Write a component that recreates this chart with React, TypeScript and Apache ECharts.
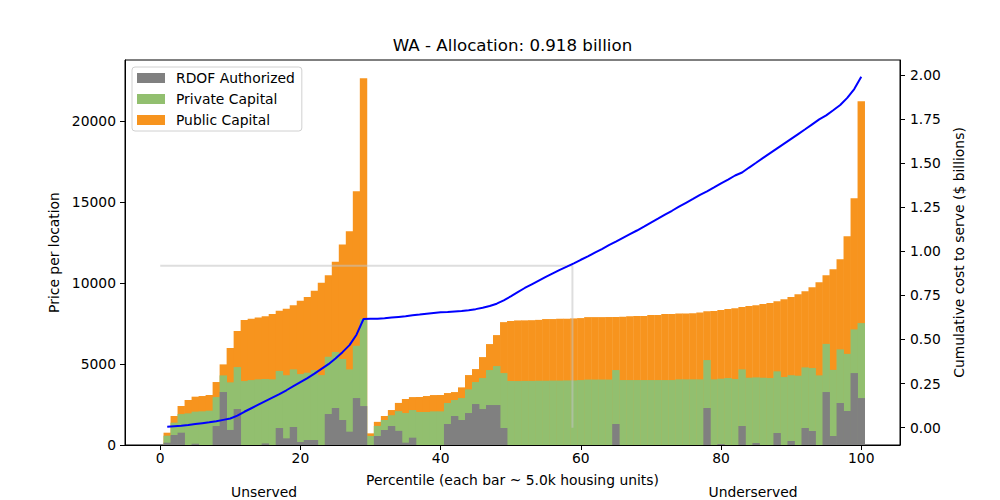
import React, { useEffect, useRef } from "react";
import * as echarts from "echarts";

// ---------- data ----------
const percentiles = [
  1, 2, 3, 4, 5, 6, 7, 8, 9, 10, 11, 12, 13, 14, 15, 16, 17, 18, 19, 20,
  21, 22, 23, 24, 25, 26, 27, 28, 29, 30, 31, 32, 33, 34, 35, 36, 37, 38, 39, 40,
  41, 42, 43, 44, 45, 46, 47, 48, 49, 50, 51, 52, 53, 54, 55, 56, 57, 58, 59, 60,
  61, 62, 63, 64, 65, 66, 67, 68, 69, 70, 71, 72, 73, 74, 75, 76, 77, 78, 79, 80,
  81, 82, 83, 84, 85, 86, 87, 88, 89, 90, 91, 92, 93, 94, 95, 96, 97, 98, 99, 100,
];

// top of the orange bar (public capital, drawn from 0)
const publicCapital = [
  760, 1790, 2410, 2780, 2985, 3025, 3090, 3890, 4980, 5990,
  7040, 7720, 7800, 7880, 7960, 8090, 8290, 8420, 8640, 8910,
  9140, 9530, 10020, 10490, 11320, 12390, 13210, 15680, 22650, 720,
  1430, 1790, 2160, 2600, 2840, 2960, 2965, 3025, 3085, 3090,
  3210, 3270, 3560, 4320, 4690, 5430, 6235, 6790, 7590, 7655,
  7695, 7700, 7710, 7730, 7780, 7780, 7800, 7800, 7820, 7840,
  7900, 7900, 7900, 7905, 7910, 7920, 7960, 7965, 7970, 8025,
  8030, 8085, 8090, 8128, 8130, 8135, 8190, 8270, 8275, 8335,
  8395, 8455, 8520, 8580, 8640, 8705, 8765, 8880, 9010, 9135,
  9320, 9505, 9750, 10060, 10490, 10860, 11480, 12900, 15250, 21240,
];

// top of the green bar (private capital, drawn from 0)
const privateCapital = [
  576, 1380, 1910, 1955, 2060, 2080, 2120, 2960, 4300, 3870,
  4815, 3950, 4010, 4055, 4075, 4055, 4570, 4310, 4670, 4380,
  4465, 4630, 4320, 5450, 5740, 5310, 4670, 6130, 7780, 560,
  1180, 1545, 1840, 2090, 1975, 2160, 2040, 2040, 2078, 2078,
  2593, 2778, 2900, 3436, 3889, 4136, 4630, 4877, 4444, 3951,
  3951, 3960, 3960, 3970, 3970, 3980, 3980, 3990, 3990, 4010,
  4040, 4040, 4040, 4040, 4630, 4012, 4012, 4012, 4012, 4012,
  4012, 4012, 4012, 4053, 4053, 4053, 4053, 5247, 4053, 4095,
  4136, 4074, 4671, 4156, 4177, 4156, 4136, 4550, 4198, 4310,
  4280, 4794, 4753, 4300, 6245, 4640, 5905, 5630, 7140, 7531,
];

// gray bar (RDOF authorized, drawn from 0)
const rdofAuthorized = [
  144, 617, 761, 0, 80, 0, 0, 1173, 3272, 930,
  2222, 0, 0, 0, 100, 0, 1050, 412, 1111, 185,
  309, 309, 0, 1914, 2284, 1543, 823, 2901, 2407, 0,
  556, 926, 1173, 875, 144, 453, 0, 0, 0, 0,
  1296, 1790, 1543, 1975, 2531, 2222, 2469, 2469, 1049, 0,
  0, 0, 0, 0, 0, 0, 0, 0, 0, 0,
  0, 0, 0, 0, 1296, 0, 0, 0, 0, 0,
  0, 0, 0, 0, 0, 0, 0, 2284, 0, 62,
  0, 0, 1173, 0, 123, 0, 0, 741, 0, 247,
  0, 1049, 864, 0, 3272, 556, 2593, 2099, 4444, 2901,
];

// cumulative cost to serve ($ billions), right axis
const cumulativeCost = [
  0.005, 0.008, 0.011, 0.015, 0.02, 0.025, 0.03, 0.036, 0.044, 0.052,
  0.068, 0.09, 0.11, 0.13, 0.15, 0.17, 0.19, 0.212, 0.235, 0.258,
  0.281, 0.306, 0.333, 0.36, 0.392, 0.428, 0.468, 0.527, 0.616, 0.617,
  0.618, 0.62, 0.624, 0.628, 0.632, 0.637, 0.641, 0.646, 0.65, 0.654,
  0.656, 0.659, 0.662, 0.666, 0.672, 0.68, 0.69, 0.703, 0.722, 0.744,
  0.768, 0.792, 0.813, 0.834, 0.855, 0.875, 0.895, 0.913, 0.932, 0.952,
  0.971, 0.992, 1.013, 1.035, 1.055, 1.076, 1.097, 1.118, 1.14, 1.163,
  1.185, 1.208, 1.23, 1.253, 1.275, 1.297, 1.32, 1.34, 1.362, 1.385,
  1.407, 1.43, 1.447, 1.475, 1.502, 1.53, 1.557, 1.584, 1.611, 1.638,
  1.665, 1.692, 1.72, 1.748, 1.771, 1.8, 1.83, 1.87, 1.92, 1.99,
];

const allocation = 0.918; // billions
const allocationPercentile = 58.8;

const xTicks = [0, 20, 40, 60, 80, 100];
const leftTicks = [0, 5000, 10000, 15000, 20000];
const rightTicks = [0, 0.25, 0.5, 0.75, 1.0, 1.25, 1.5, 1.75, 2.0];

const titleText = "WA - Allocation: 0.918 billion";
const xLabel = "Percentile (each bar ~ 5.0k housing units)";
const leftLabel = "Price per location";
const rightLabel = "Cumulative cost to serve ($ billions)";
const groupLabels = ["Unserved", "Underserved"];

// ---------- layout ----------
const W = 1000;
const H = 500;
const GRID = { left: 125, right: 100, top: 60, bottom: 55 };
const X_MIN = -5.025;
const X_MAX = 105.525;
const FONT = "DejaVu Sans";
const FS = 13.89;

const COLORS = {
  rdof: "#808080",
  priv: "#92bf6f",
  pub: "#f7941e",
  line: "#0000ff",
};

export default function App() {
  const ref = useRef<HTMLDivElement>(null);

  useEffect(() => {
    if (!ref.current) return;
    const chart = echarts.init(ref.current, undefined, { renderer: "svg" });
    const plotW = W - GRID.left - GRID.right;
    const barW = plotW / (X_MAX - X_MIN) + 0.4;

    const pair = (arr: number[]) => arr.map((v, i) => [percentiles[i], v]);

    const tickLabelStyle = {
      color: "#000",
      fontFamily: FONT,
      fontSize: FS,
    };

    const textEl = (x: number, y: number, text: string, size: number) => ({
      type: "text",
      x,
      y,
      z: 100,
      style: {
        text,
        font: `${size}px "${FONT}"`,
        fill: "#000",
        align: "center",
        textAlign: "center",
        verticalAlign: "middle",
        textVerticalAlign: "middle",
      },
    });

    const option: any = {
      animation: false,
      backgroundColor: "#fff",
      grid: {
        ...GRID,
        show: true,
        borderColor: "#000",
        borderWidth: 1,
        backgroundColor: "transparent",
        containLabel: false,
      },
      legend: {
        data: ["RDOF Authorized", "Private Capital", "Public Capital"],
        orient: "vertical",
        left: 132,
        top: 67,
        itemWidth: 28,
        itemHeight: 10,
        itemGap: 7,
        padding: [4, 7, 4, 5],
        icon: "rect",
        borderColor: "#d0d0d0",
        borderWidth: 1,
        borderRadius: 3,
        backgroundColor: "rgba(255,255,255,0.8)",
        textStyle: { ...tickLabelStyle, padding: [0, 0, 0, 6] },
        selectedMode: false,
      },
      xAxis: {
        type: "value",
        min: X_MIN,
        max: X_MAX,
        splitLine: { show: false },
        axisLine: {
          show: true,
          onZero: false,
          lineStyle: { color: "#000", width: 1 },
        },
        axisTick: {
          show: true,
          length: 5,
          customValues: xTicks,
          lineStyle: { color: "#000" },
        },
        axisLabel: { ...tickLabelStyle, margin: 6, customValues: xTicks },
      },
      yAxis: [
        {
          type: "value",
          position: "left",
          min: 0,
          max: 23783,
          splitLine: { show: false },
          axisLine: {
            show: true,
            onZero: false,
            lineStyle: { color: "#000", width: 1 },
          },
          axisTick: {
            show: true,
            length: 5,
            customValues: leftTicks,
            lineStyle: { color: "#000" },
          },
          axisLabel: {
            ...tickLabelStyle,
            margin: 9,
            customValues: leftTicks,
            formatter: (v: number) => String(v),
          },
          name: leftLabel,
          nameLocation: "middle",
          nameGap: 60,
          nameRotate: 90,
          nameTextStyle: tickLabelStyle,
        },
        {
          type: "value",
          position: "right",
          min: -0.0985,
          max: 2.085,
          splitLine: { show: false },
          axisLine: {
            show: true,
            onZero: false,
            lineStyle: { color: "#000", width: 1 },
          },
          axisTick: {
            show: true,
            length: 5,
            customValues: rightTicks,
            lineStyle: { color: "#000" },
          },
          axisLabel: {
            ...tickLabelStyle,
            margin: 10,
            customValues: rightTicks,
            formatter: (v: number) => v.toFixed(2),
          },
          name: rightLabel,
          nameLocation: "middle",
          nameGap: 45,
          nameRotate: 90,
          nameTextStyle: tickLabelStyle,
        },
      ],
      series: [
        {
          name: "Public Capital",
          type: "bar",
          data: pair(publicCapital),
          barWidth: barW,
          barGap: "-100%",
          itemStyle: { color: COLORS.pub },
          z: 2,
        },
        {
          name: "Private Capital",
          type: "bar",
          data: pair(privateCapital),
          barWidth: barW,
          barGap: "-100%",
          itemStyle: { color: COLORS.priv },
          z: 3,
        },
        {
          name: "RDOF Authorized",
          type: "bar",
          data: pair(rdofAuthorized),
          barWidth: barW,
          barGap: "-100%",
          itemStyle: { color: COLORS.rdof },
          z: 4,
        },
        {
          name: "allocation",
          type: "line",
          yAxisIndex: 1,
          data: [
            [0, allocation],
            [allocationPercentile, allocation],
            [allocationPercentile, 0],
          ],
          symbol: "none",
          silent: true,
          lineStyle: { color: "rgba(195,195,195,0.55)", width: 2 },
          z: 5,
        },
        {
          name: "cumulative",
          type: "line",
          yAxisIndex: 1,
          data: pair(cumulativeCost),
          symbol: "none",
          lineStyle: { color: COLORS.line, width: 2 },
          z: 6,
        },
      ],
      graphic: [
        textEl(512.5, 45, titleText, 16.67),
        textEl(512.5, 480, xLabel, FS),
        textEl(264, 492, groupLabels[0], FS),
        textEl(753, 492, groupLabels[1], FS),
      ],
    };

    chart.setOption(option);
    return () => chart.dispose();
  }, []);

  return (
    <div
      ref={ref}
      style={{ position: "fixed", left: 0, top: 0, width: W, height: H }}
    />
  );
}
